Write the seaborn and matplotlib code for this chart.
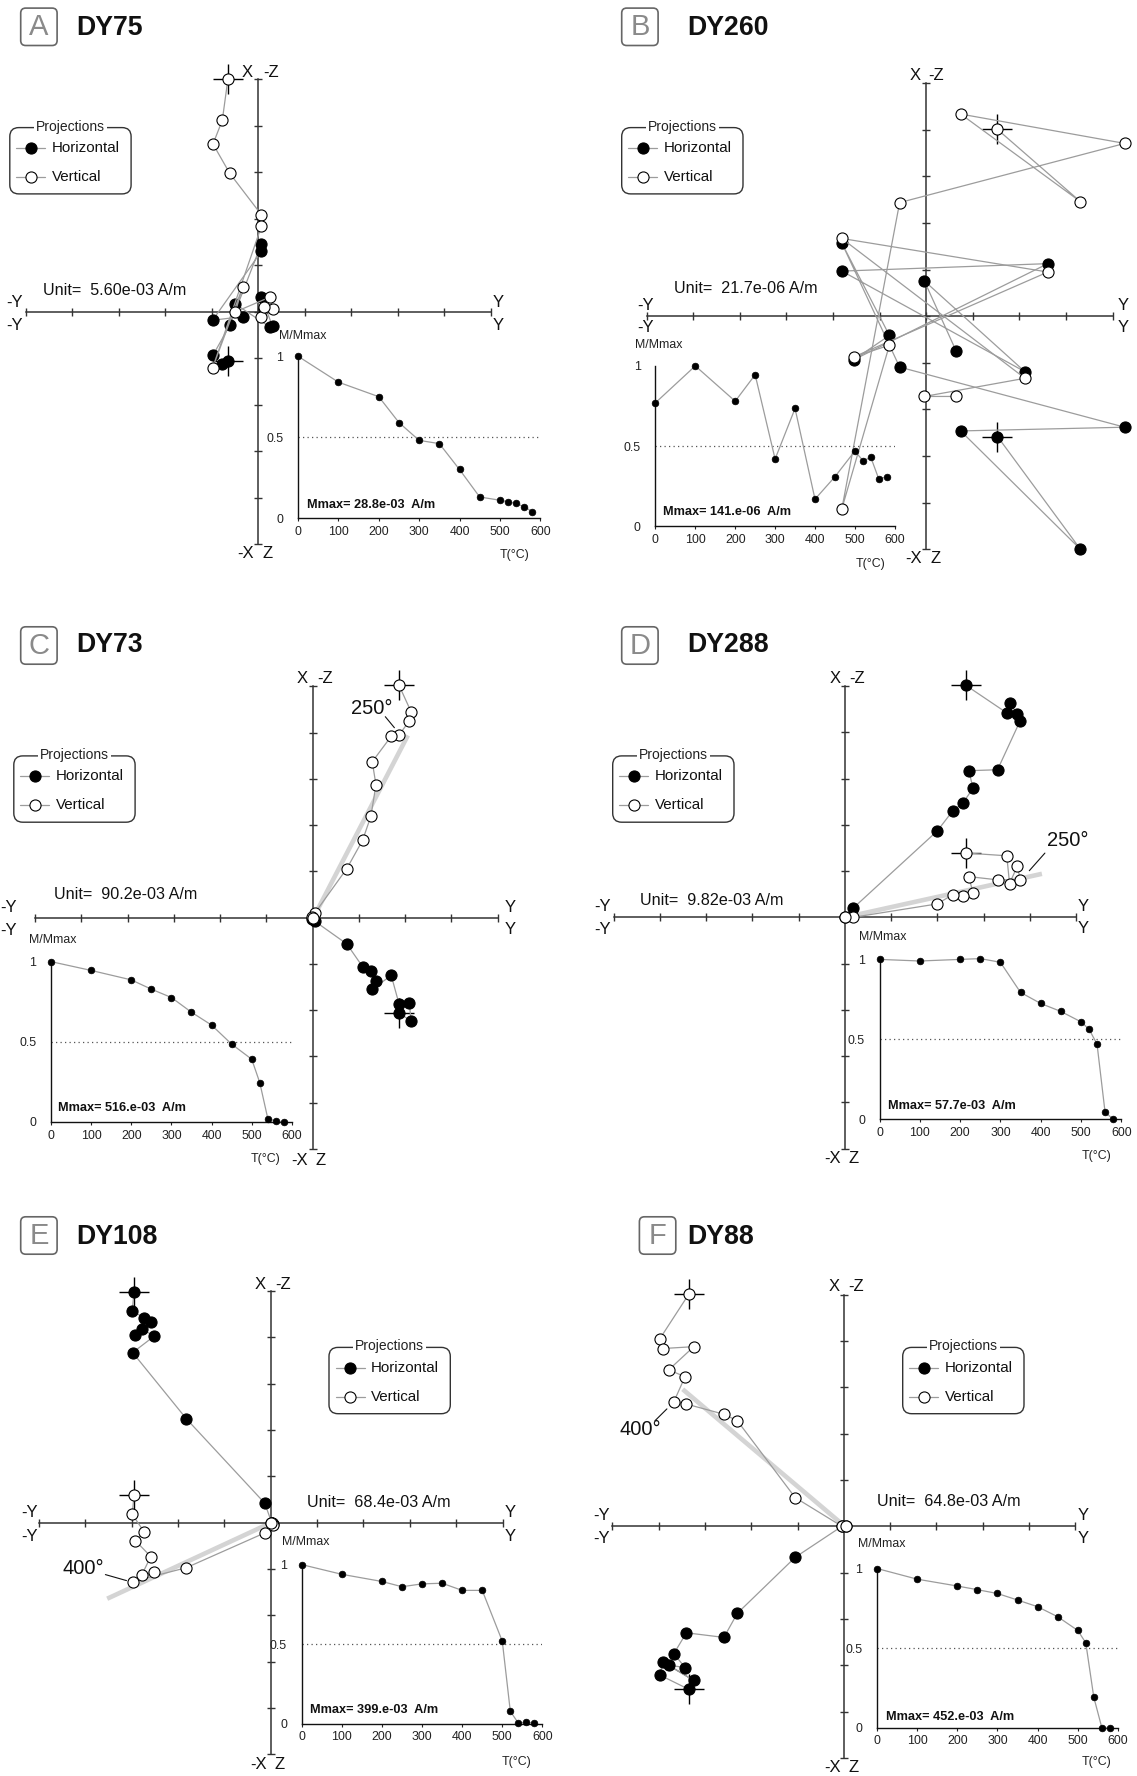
import matplotlib
matplotlib.use("Agg")
import matplotlib.pyplot as plt
from matplotlib.patches import FancyBboxPatch
import seaborn as sns

sns.set_style("white")
plt.rcParams['font.family'] = ['Liberation Sans', 'DejaVu Sans']

# ------------------------------------------------------------------ data
TEMPS = [0, 100, 200, 250, 300, 350, 400, 450, 500, 520, 540, 560, 580]

LETTERS = ["A", "B", "C", "D", "E", "F"]
SAMPLES = ["DY75", "DY260", "DY73", "DY288", "DY108", "DY88"]
UNITS = ["5.60e-03", "21.7e-06", "90.2e-03", "9.82e-03", "68.4e-03", "64.8e-03"]
MMAX = ["28.8e-03", "141.e-06", "516.e-03", "57.7e-03", "399.e-03", "452.e-03"]

# Zijderveld components in plot units: east (Y axis), north (horizontal proj.), up (vertical proj.)
E_A = [-0.65, -0.77, -0.97, -0.61, 0.07, 0.07, -0.98, -0.33, -0.49, 0.26, 0.31, 0.07, 0.13]
N_A = [-1.05, -1.13, -0.93, -0.29, 1.46, 1.30, -0.18, -0.10, 0.17, -0.33, -0.31, 0.32, 0.08]
UP_A = [5.00, 4.12, 3.61, 2.98, 2.09, 1.84, -1.21, 0.54, 0.00, 0.32, 0.06, -0.11, 0.10]

E_B = [1.53, 3.31, 0.74, 4.26, -0.57, -1.81, -0.79, -1.55, 2.61, -1.81, 2.12, -0.04, 0.64]
N_B = [-2.58, -5.00, -2.46, -2.38, -1.09, 1.57, -0.41, -0.93, 1.13, 0.97, -1.19, 0.76, -0.74]
UP_B = [4.01, 2.46, 4.34, 3.71, 2.44, -4.13, -0.62, -0.87, 0.95, 1.67, -1.33, -1.72, -1.72]

E_C = [1.87, 2.13, 2.09, 1.87, 1.70, 1.29, 1.37, 1.26, 1.08, 0.74, 0.05, -0.02, 0.00]
N_C = [-2.06, -2.24, -1.84, -1.87, -1.25, -1.55, -1.38, -1.15, -1.06, -0.57, -0.08, -0.02, 0.00]
UP_C = [5.02, 4.45, 4.25, 3.95, 3.92, 3.37, 2.87, 2.19, 1.67, 1.06, 0.10, 0.01, 0.00]

E_D = [2.61, 3.50, 3.56, 3.73, 3.79, 3.30, 2.68, 2.77, 2.55, 2.33, 2.00, 0.18, 0.00]
N_D = [5.02, 4.42, 4.63, 4.40, 4.25, 3.19, 3.17, 2.79, 2.47, 2.30, 1.87, 0.20, 0.00]
UP_D = [1.39, 1.33, 0.73, 1.11, 0.81, 0.81, 0.88, 0.52, 0.45, 0.49, 0.29, 0.00, 0.00]

E_E = [-2.95, -2.99, -2.73, -2.92, -2.59, -2.78, -2.51, -2.98, -1.82, -0.13, 0.02, 0.04, 0.00]
N_E = [4.98, 4.57, 4.42, 4.05, 4.34, 4.17, 4.03, 3.67, 2.24, 0.42, 0.00, -0.02, 0.00]
UP_E = [0.59, 0.18, -0.20, -0.39, -0.73, -1.12, -1.07, -1.27, -0.97, -0.22, 0.00, -0.05, 0.00]

E_F = [-3.35, -3.98, -3.90, -3.24, -3.78, -3.43, -3.67, -3.40, -2.59, -2.30, -1.05, -0.04, 0.04]
N_F = [-3.52, -3.21, -2.94, -3.33, -3.00, -3.05, -2.75, -2.30, -2.40, -1.88, -0.67, 0.00, 0.00]
UP_F = [5.01, 4.04, 3.84, 3.88, 3.38, 3.23, 2.69, 2.64, 2.42, 2.28, 0.62, 0.00, 0.00]

# normalised intensity M/Mmax
M_A = [1.0, 0.84, 0.75, 0.59, 0.48, 0.46, 0.30, 0.13, 0.11, 0.10, 0.09, 0.07, 0.04]
M_B = [0.77, 1.0, 0.78, 0.945, 0.42, 0.735, 0.17, 0.31, 0.47, 0.41, 0.43, 0.295, 0.31]
M_C = [1.0, 0.945, 0.886, 0.828, 0.776, 0.684, 0.604, 0.485, 0.391, 0.245, 0.021, 0.005, 0.0]
M_D = [1.0, 0.99, 1.0, 1.005, 0.982, 0.793, 0.724, 0.674, 0.609, 0.563, 0.469, 0.041, 0.0]
M_E = [1.0, 0.939, 0.894, 0.861, 0.879, 0.883, 0.838, 0.838, 0.519, 0.079, 0.004, 0.009, 0.004]
M_F = [1.0, 0.933, 0.89, 0.867, 0.843, 0.802, 0.76, 0.697, 0.611, 0.533, 0.191, 0.0, 0.0]

# fitted characteristic directions (vertical projection), plot units
FIT_C_E, FIT_C_UP = [0.05, 2.06], [0.06, 3.94]
FIT_D_E, FIT_D_UP = [0.05, 4.26], [0.01, 0.94]
FIT_E_E, FIT_E_UP = [-3.53, -0.10], [-1.64, -0.05]
FIT_F_E, FIT_F_UP = [-3.48, -0.05], [2.96, 0.06]

# ------------------------------------------------------------------ layout
W, H = 1137, 1776
fig = plt.figure(figsize=(W / 100, H / 100), dpi=100)


def rect(x0, y0, x1, y1):
    return [x0 / W, 1 - y1 / H, (x1 - x0) / W, (y1 - y0) / H]


PANELS = [
    dict(e=E_A, n=N_A, up=UP_A, m=M_A, fit=None,
         cx=258.1, cy=311.9, s=46.5, xr=(-5, 5),
         inset=(298.1, 540.2, 518.0, 356.3), legend=(9.8, 127.6), lbox=(20.7, 8.1),
         title=(76.3, 27.7), unit=(42.9, 290.4),
         labels=[('-Y', 14.5, 302.6), ('-Y', 14.5, 325.6), ('Y', 498, 302.6), ('Y', 498, 325.6),
                 ('X', 247.2, 72.1), ('-Z', 270.8, 72.1), ('-X', 245.4, 553.8), ('Z', 267.2, 553.8)],
         mm=(302.4, 335.6), tl=(514.4, 555.0), mx=(307.2, 505.0), angle=None),
    dict(e=E_B, n=N_B, up=UP_B, m=M_B, fit=None,
         cx=926.2, cy=316.3, s=46.6, xr=(-6, 4),
         inset=(655.4, 894.8, 526.5, 365.9), legend=(621.7, 127.6), lbox=(621.7, 8.1),
         title=(687.5, 27.7), unit=(674.2, 288.6),
         labels=[('-Y', 645.9, 306), ('-Y', 645.9, 327.4), ('Y', 1123.3, 306), ('Y', 1123.3, 327.4),
                 ('X', 915.4, 75.1), ('-Z', 936.0, 75.1), ('-X', 913.6, 558.6), ('Z', 935.3, 558.6)],
         mm=(658.6, 344.8), tl=(870.9, 564.2), mx=(663.3, 512.4), angle=None),
    dict(e=E_C, n=N_C, up=UP_C, m=M_C, fit=(FIT_C_E, FIT_C_UP),
         cx=312.6, cy=917.6, s=46.25, xr=(-6, 4),
         inset=(50.9, 291.9, 1121.9, 961.6), legend=(13.8, 755.9), lbox=(20.7, 626.8),
         title=(76.3, 645.2), unit=(54.5, 894.5),
         labels=[('-Y', 8.5, 907.4), ('-Y', 8.5, 930.5), ('Y', 510.7, 907.4), ('Y', 510.7, 929.4),
                 ('X', 301.7, 678.9), ('-Z', 324.6, 678.9), ('-X', 299.9, 1160.4), ('Z', 321.0, 1160.4)],
         mm=(52.7, 939.6), tl=(265.4, 1158.6), mx=(58.2, 1108.3),
         angle=('250°', 371.5, 708.2, (385.3, 716.7), (394.4, 727.7))),
    dict(e=E_D, n=N_D, up=UP_D, m=M_D, fit=(FIT_D_E, FIT_D_UP),
         cx=844.9, cy=917.3, s=46.25, xr=(-5, 5),
         inset=(879.6, 1121.2, 1119.0, 959.4), legend=(612.7, 755.9), lbox=(621.7, 626.8),
         title=(687.5, 645.2), unit=(640.5, 900.8),
         labels=[('-Y', 602.5, 906.6), ('-Y', 602.5, 929.4), ('Y', 1083.6, 906.6), ('Y', 1083.6, 928.6),
                 ('X', 835.1, 678.2), ('-Z', 857.5, 678.2), ('-X', 832.2, 1158.6), ('Z', 853.9, 1158.6)],
         mm=(883.2, 936.7), tl=(1096.2, 1156.0), mx=(888.3, 1106.1),
         angle=('250°', 1067.3, 840.6, (1044.9, 853.1), (1029.3, 870.7))),
    dict(e=E_E, n=N_E, up=UP_E, m=M_E, fit=(FIT_E_E, FIT_E_UP),
         cx=270.8, cy=1522.7, s=46.35, xr=(-5, 5),
         inset=(301.7, 542.4, 1723.8, 1564.6), legend=(329.0, 1347.4), lbox=(20.7, 1216.8),
         title=(76.3, 1236.5), unit=(307.2, 1502.3),
         labels=[('-Y', 29.1, 1512.7), ('-Y', 29.1, 1536.3), ('Y', 510.7, 1512.7), ('Y', 510.7, 1536.3),
                 ('X', 259.9, 1284.8), ('-Z', 283.5, 1284.8), ('-X', 258.8, 1764.2), ('Z', 279.2, 1764.2)],
         mm=(306.1, 1542.4), tl=(516.2, 1761.7), mx=(310.1, 1709.8),
         angle=('400°', 83.6, 1568.1, (105.4, 1574.6), (126.5, 1580.6))),
    dict(e=E_F, n=N_F, up=UP_F, m=M_F, fit=(FIT_F_E, FIT_F_UP),
         cx=843.8, cy=1526.3, s=46.3, xr=(-5, 5),
         inset=(877.0, 1117.9, 1727.7, 1568.5), legend=(902.7, 1347.4), lbox=(639.4, 1216.8),
         title=(687.5, 1236.5), unit=(877.4, 1501.2),
         labels=[('-Y', 601.8, 1515.5), ('-Y', 601.8, 1538.8), ('Y', 1082.8, 1515.5), ('Y', 1082.8, 1538.8),
                 ('X', 834.0, 1286.6), ('-Z', 855.7, 1286.6), ('-X', 832.2, 1767.8), ('Z', 853.9, 1767.8)],
         mm=(881.8, 1544.2), tl=(1096.2, 1762.4), mx=(885.7, 1717.0),
         angle=('400°', 640.5, 1429.7, (655.0, 1420.7), (666.9, 1408.9))),
]

LINE_GRAY = '#9c9c9c'
AXIS_COL = '#333333'

overlay = fig.add_axes([0, 0, 1, 1], zorder=20)
overlay.set_xlim(0, W)
overlay.set_ylim(H, 0)
overlay.axis('off')

for i, p in enumerate(PANELS):
    # --------------------------------------------------- Zijderveld diagram
    cx, cy, s = p['cx'], p['cy'], p['s']
    x0 = cx + p['xr'][0] * s
    x1 = cx + p['xr'][1] * s
    ax = fig.add_axes(rect(x0, cy - 5 * s, x1, cy + 5 * s))
    ax.patch.set_alpha(0)
    ax.set_xlim(*p['xr'])
    ax.set_ylim(-5, 5)
    for sp in ['top', 'right']:
        ax.spines[sp].set_visible(False)
    for sp in ['left', 'bottom']:
        ax.spines[sp].set_position(('data', 0))
        ax.spines[sp].set_color(AXIS_COL)
        ax.spines[sp].set_linewidth(1.1)
    ax.set_xticks(range(p['xr'][0], p['xr'][1] + 1))
    ax.set_yticks(range(-5, 6))
    ax.tick_params(axis='both', bottom=True, left=True, direction='inout', length=6.3,
                   width=1.0, color=AXIS_COL, labelbottom=False, labelleft=False)

    if p['fit'] is not None:
        ax.plot(p['fit'][0], p['fit'][1], color='#d4d4d4', lw=3.3,
                solid_capstyle='butt', zorder=2)

    # crosshair on the first (NRM) step
    ax.plot(p['e'][:1], p['n'][:1], marker='+', ms=21, mew=1.0, color='black',
            ls='none', zorder=3, clip_on=False)
    ax.plot(p['e'][:1], p['up'][:1], marker='+', ms=21, mew=1.0, color='black',
            ls='none', zorder=3, clip_on=False)

    sns.lineplot(x=p['e'], y=p['n'], sort=False, estimator=None, ax=ax,
                 color=LINE_GRAY, linewidth=0.9, marker='o', markersize=8,
                 markerfacecolor='black', markeredgecolor='black', markeredgewidth=0.8,
                 clip_on=False, zorder=4)
    sns.lineplot(x=p['e'], y=p['up'], sort=False, estimator=None, ax=ax,
                 color=LINE_GRAY, linewidth=0.9, marker='o', markersize=8,
                 markerfacecolor='white', markeredgecolor='black', markeredgewidth=0.8,
                 clip_on=False, zorder=5)
    ax.set_xlabel('')
    ax.set_ylabel('')

    # --------------------------------------------------- demagnetisation curve
    ix0, ix1, iy0, iy1 = p['inset']
    axi = fig.add_axes(rect(ix0, iy1, ix1, iy0), zorder=6)
    axi.patch.set_alpha(0)
    axi.set_xlim(0, 600)
    axi.set_ylim(0, 1)
    axi.axhline(0.5, color='#555555', ls=(0, (1, 2.6)), lw=0.9, zorder=1)
    sns.lineplot(x=TEMPS, y=p['m'], sort=False, estimator=None, ax=axi,
                 color=LINE_GRAY, linewidth=0.9, marker='o', markersize=4.8,
                 markerfacecolor='black', markeredgecolor='black', markeredgewidth=0.5,
                 clip_on=False, zorder=3)
    for sp in ['top', 'right']:
        axi.spines[sp].set_visible(False)
    for sp in ['left', 'bottom']:
        axi.spines[sp].set_color('#111111')
        axi.spines[sp].set_linewidth(1.0)
    axi.set_xticks(range(0, 601, 100))
    axi.set_yticks([0, 0.5, 1])
    axi.set_yticklabels(['0', '0.5', '1'])
    axi.tick_params(axis='x', bottom=True, direction='out', length=2.5, width=0.8,
                    pad=3, labelsize=8.9, colors='#222222')
    axi.tick_params(axis='y', left=False, pad=7, labelsize=8.9, colors='#222222')
    axi.set_xlabel('')
    axi.set_ylabel('')

    # --------------------------------------------------- texts on overlay
    ov = overlay
    bx, by = p['lbox']
    ov.add_patch(FancyBboxPatch((bx, by), 36.4, 37.4,
                                boxstyle="round,pad=0,rounding_size=5",
                                fc='white', ec='#666666', lw=1.2))
    ov.text(bx + 18.2, by + 19.2, LETTERS[i], fontsize=21, color='#8a8a8a',
            ha='center', va='center')
    ov.text(p['title'][0], p['title'][1], SAMPLES[i], fontsize=19.2, fontweight='bold',
            ha='left', va='center', color='#111111')

    ov.text(p['unit'][0], p['unit'][1], 'Unit=  ' + UNITS[i] + ' A/m', fontsize=11.6,
            ha='left', va='center', color='#111111')

    for txt, tx, ty in p['labels']:
        ov.text(tx, ty, txt, fontsize=12, ha='center', va='center', color='#111111')

    ov.text(p['mm'][0], p['mm'][1], 'M/Mmax', fontsize=8.9, ha='center', va='center',
            color='#222222')
    ov.text(p['tl'][0], p['tl'][1], 'T(°C)', fontsize=8.9, ha='center', va='center',
            color='#222222')
    ov.text(p['mx'][0], p['mx'][1], 'Mmax= ' + MMAX[i] + '  A/m', fontsize=9.2,
            fontweight='bold', ha='left', va='center', color='#111111')

    if p['angle'] is not None:
        txt, tx, ty, (lx0, ly0), (lx1, ly1) = p['angle']
        ov.text(tx, ty, txt, fontsize=14.5, ha='center', va='center', color='#111111')
        ov.plot([lx0, lx1], [ly0, ly1], color='#111111', lw=0.8)

    lx, ly = p['legend']
    lw_, lh_ = 121.3, 66.3
    ov.add_patch(FancyBboxPatch((lx, ly), lw_, lh_,
                                boxstyle="round,pad=0,rounding_size=9",
                                fc='white', ec='#333333', lw=1.0))
    ov.text(lx + lw_ / 2, ly - 1, 'Projections', fontsize=10, ha='center', va='center',
            color='#222222',
            bbox=dict(boxstyle='square,pad=0.15', fc='white', ec='none'))
    for k, (lab, fc) in enumerate([('Horizontal', 'black'), ('Vertical', 'white')]):
        yy = ly + 20.4 + k * 28.8
        ov.plot([lx + 6.6, lx + 35.6], [yy, yy], color=LINE_GRAY, lw=0.9)
        ov.plot([lx + 21.1], [yy], marker='o', ms=8, mfc=fc, mec='black', mew=0.8, ls='none')
        ov.text(lx + 42.2, yy, lab, fontsize=10.9, ha='left', va='center', color='#111111')

fig.savefig('out.png', dpi=100)
